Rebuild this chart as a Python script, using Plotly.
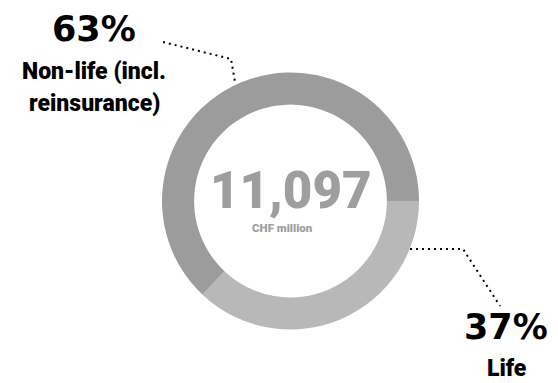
import plotly.graph_objects as go

W, H = 558, 383

labels = ["Life", "Non-life (incl. reinsurance)"]
label_lines = [["Life"], ["Non-life (incl.", "reinsurance)"]]
shares = [37, 63]
colors = ["#b7b8b7", "#9b9c9b"]
total_value = "11,097"
total_unit = "CHF million"

def px(x):
    return x / W

def py(y):
    return 1 - y / H

fig = go.Figure()
fig.add_trace(go.Pie(
    labels=labels,
    values=shares,
    hole=0.75,
    sort=False,
    direction="clockwise",
    rotation=90,
    marker=dict(colors=colors, line=dict(width=0)),
    textinfo="none",
    hoverinfo="label+percent",
    showlegend=False,
    domain=dict(x=[px(162), px(419)], y=[py(329.5), py(72.5)]),
))

LABEL_FONT = "Roboto"
PCT_FONT = "DejaVu Sans"

def text(x, y, s, size, color="#000000", family=LABEL_FONT, weight=900):
    fig.add_annotation(x=px(x), y=py(y), xref="paper", yref="paper",
                       text=s, showarrow=False,
                       font=dict(family=family, size=size, color=color, weight=weight),
                       xanchor="center", yanchor="middle", align="center")

# center total
text(291, 190, total_value, 51, "#9d9e9d")
text(282, 228, total_unit, 11.5, "#9d9e9d")

# Non-life label
text(94, 29, "%d%%" % shares[1], 35, family=PCT_FONT, weight=700)
text(94, 71, label_lines[1][0], 23)
text(94, 103, label_lines[1][1], 23)

# Life label
text(506, 327, "%d%%" % shares[0], 35, family=PCT_FONT, weight=700)
text(507, 368, label_lines[0][0], 23)

# leader lines
def leader(points):
    path = "M " + " L ".join("%f,%f" % (px(x), py(y)) for x, y in points)
    fig.add_shape(type="path", path=path, xref="paper", yref="paper",
                  line=dict(color="#000000", width=2, dash="2px,4px"))

leader([(163, 42), (231, 59), (235, 82)])
leader([(410, 249), (463, 249), (500, 306)])

fig.update_layout(
    width=W, height=H,
    margin=dict(l=0, r=0, t=0, b=0),
    paper_bgcolor="#ffffff",
    plot_bgcolor="#ffffff",
)

fig.write_html("out.html")
